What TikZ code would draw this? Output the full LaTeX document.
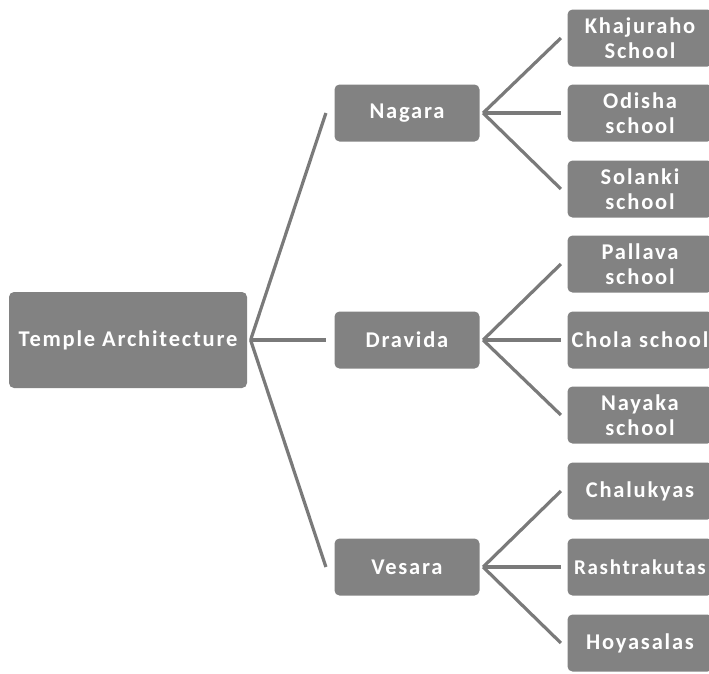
\documentclass[tikz,border=0pt]{standalone}
\usepackage{fontspec}
\setmainfont{Carlito}[LetterSpace=8]

\begin{document}
\begin{tikzpicture}[x=1pt, y=-1pt, line width=3.2pt]
        \colorlet{boxgray}{black!49}
        \colorlet{linegray}{black!52}
        \tikzset{
            box/.style={fill=boxgray, rounded corners=5pt, inner sep=0pt,
                text=white, align=center, font=\fontsize{22.5}{24.5}\selectfont\bfseries},
            rootbox/.style={box, minimum width=238pt, minimum height=96pt},
            midbox/.style={box, minimum width=145pt, minimum height=57pt},
            leafbox/.style={box, minimum width=145pt, minimum height=57pt, text width=145pt},
            link/.style={draw=linegray, line width=3.2pt}
        }
        \useasboundingbox (0,0) rectangle (709,673);

        % --- Root ---
        \node[rootbox] (temple) at (128,340) {Temple Architecture};

        % --- Styles of temple ---
        \node[midbox] (nagara)  at (407,113) {Nagara};
        \node[midbox] (dravida) at (407,340) {Dravida};
        \node[midbox] (vesara)  at (407,567) {Vesara};

        \foreach \m in {nagara, dravida, vesara}
            \draw[link] ([xshift=2pt]temple.east) -- ([xshift=-7pt]\m.west);

        % --- Schools ---
        \foreach \name/\y/\txt/\up in {
                khajuraho/38/Khajuraho\\School/nagara,
                odisha/113/Odisha\\school/nagara,
                solanki/189/Solanki\\school/nagara,
                pallava/264/Pallava\\school/dravida,
                chola/340/Chola school/dravida,
                nayaka/415/Nayaka\\school/dravida,
                chalukyas/491/Chalukyas/vesara,
                rashtrakutas/567/{\fontsize{21}{24}\selectfont Rashtrakutas}/vesara,
                hoyasalas/643/Hoyasalas/vesara} {
            \node[leafbox] (\name) at (640,\y) {\txt};
            \draw[link] ([xshift=2pt]\up.east) -- ([xshift=-5pt]\name.west);
        }
    \end{tikzpicture}
\end{document}
